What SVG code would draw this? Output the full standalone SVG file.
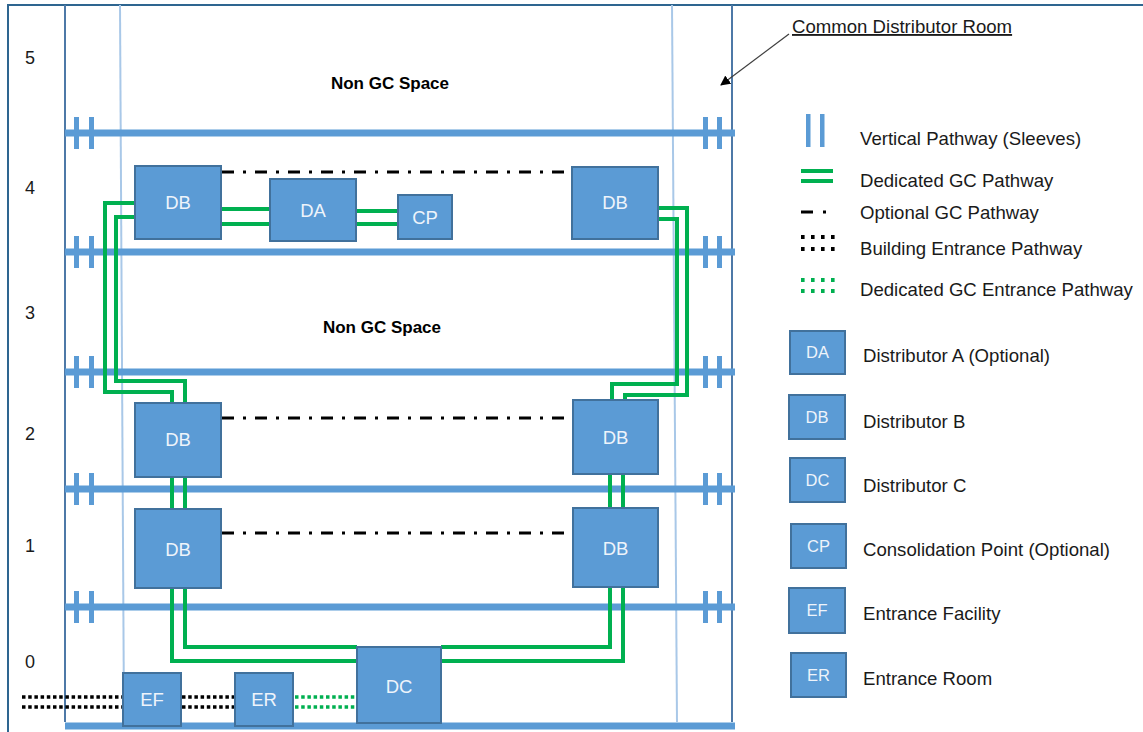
<svg xmlns="http://www.w3.org/2000/svg" width="1143" height="732" viewBox="0 0 1143 732">
<defs>
<style>
.lbl{font-family:"Liberation Sans",Arial,sans-serif;font-size:18.6px;fill:#1a1a1a}
.num{font-family:"Liberation Sans",Arial,sans-serif;font-size:18px;fill:#1a1a1a}
.bold{font-family:"Liberation Sans",Arial,sans-serif;font-size:17px;font-weight:bold;fill:#000}
.box{fill:#5b9bd5;stroke:#41719c;stroke-width:2}
.bt{font-family:"Liberation Sans",Arial,sans-serif;font-size:18.5px;fill:#eef4fb;text-anchor:middle}
.lbt{font-family:"Liberation Sans",Arial,sans-serif;font-size:16.5px;fill:#eef4fb;text-anchor:middle}
.slab{stroke:#5b9bd5;stroke-width:7;fill:none}
.sleeve{fill:#5b9bd5}
.gc{stroke:#00b050;stroke-width:4;fill:none}
.opt{stroke:#000;stroke-width:3;fill:none;stroke-dasharray:12 9 3 9}
.bep{stroke:#000;stroke-width:3.5;fill:none;stroke-dasharray:3.5 2.7}
.gep{stroke:#00b050;stroke-width:3.5;fill:none;stroke-dasharray:3.5 2.7}
</style>
<marker id="arr" markerWidth="10" markerHeight="10" refX="9" refY="5" orient="auto" markerUnits="userSpaceOnUse">
<path d="M0,0 L10,5 L0,10 z" fill="#000"/>
</marker>
</defs>
<rect x="0" y="0" width="1143" height="732" fill="#fff"/>
<path d="M8,732 V5 H1143" fill="none" stroke="#2e6590" stroke-width="2"/>

<g id="building">
<line x1="120" y1="5" x2="124" y2="722" stroke="#a9c8e8" stroke-width="2"/>
<line x1="672" y1="5" x2="677" y2="722" stroke="#a9c8e8" stroke-width="2"/>
<line x1="65" y1="5" x2="65" y2="722" stroke="#4e79a7" stroke-width="2"/>
<line x1="732" y1="5" x2="732" y2="722" stroke="#4e79a7" stroke-width="2"/>
<line class="slab" x1="65" y1="133" x2="735" y2="133"/>
<line class="slab" x1="65" y1="252" x2="735" y2="252"/>
<line class="slab" x1="65" y1="372" x2="735" y2="372"/>
<line class="slab" x1="65" y1="489" x2="735" y2="489"/>
<line class="slab" x1="65" y1="607" x2="735" y2="607"/>
<line class="slab" x1="65" y1="726" x2="735" y2="726"/>
<g id="sleeves">
<rect class="sleeve" x="74" y="117" width="5" height="32"/><rect class="sleeve" x="89" y="117" width="5" height="32"/>
<rect class="sleeve" x="703" y="117" width="5" height="32"/><rect class="sleeve" x="717" y="117" width="5" height="32"/>
<rect class="sleeve" x="74" y="236" width="5" height="32"/><rect class="sleeve" x="89" y="236" width="5" height="32"/>
<rect class="sleeve" x="703" y="236" width="5" height="32"/><rect class="sleeve" x="717" y="236" width="5" height="32"/>
<rect class="sleeve" x="74" y="356" width="5" height="32"/><rect class="sleeve" x="89" y="356" width="5" height="32"/>
<rect class="sleeve" x="703" y="356" width="5" height="32"/><rect class="sleeve" x="717" y="356" width="5" height="32"/>
<rect class="sleeve" x="74" y="473" width="5" height="32"/><rect class="sleeve" x="89" y="473" width="5" height="32"/>
<rect class="sleeve" x="703" y="473" width="5" height="32"/><rect class="sleeve" x="717" y="473" width="5" height="32"/>
<rect class="sleeve" x="74" y="591" width="5" height="32"/><rect class="sleeve" x="89" y="591" width="5" height="32"/>
<rect class="sleeve" x="703" y="591" width="5" height="32"/><rect class="sleeve" x="717" y="591" width="5" height="32"/>
</g>
</g>

<g id="floor-labels">
<text class="num" x="25" y="64">5</text>
<text class="num" x="25" y="194">4</text>
<text class="num" x="25" y="319">3</text>
<text class="num" x="25" y="440">2</text>
<text class="num" x="25" y="552">1</text>
<text class="num" x="25" y="668">0</text>
<text class="bold" x="390" y="89" text-anchor="middle">Non GC Space</text>
<text class="bold" x="382" y="333" text-anchor="middle">Non GC Space</text>
</g>

<g id="connectors">
<path class="gc" d="M135,203 H105 V392 H172 V403"/>
<path class="gc" d="M135,217 H116 V381 H185 V403"/>
<path class="gc" d="M658,208 H687 V395 H625 V400"/>
<path class="gc" d="M658,219 H677 V384 H612 V400"/>
<path class="gc" d="M221,209 H270 M221,224 H270"/>
<path class="gc" d="M356,211 H398 M356,224 H398"/>
<path class="gc" d="M172,477 V509 M185,477 V509"/>
<path class="gc" d="M610,474 V508 M623,474 V508"/>
<path class="gc" d="M172,588 V661 H357"/>
<path class="gc" d="M185,588 V647 H357"/>
<path class="gc" d="M610,587 V647 H441"/>
<path class="gc" d="M623,587 V661 H441"/>
<line class="opt" x1="222" y1="172" x2="566" y2="172"/>
<line class="opt" x1="222" y1="418" x2="566" y2="418"/>
<line class="opt" x1="222" y1="533" x2="566" y2="533"/>
<path class="bep" d="M22,697 H123 M22,707 H123"/>
<path class="bep" d="M182,697 H235 M182,707 H235"/>
<path class="gep" d="M295,697 H356 M295,707 H356"/>
<line x1="789" y1="34" x2="721" y2="85" stroke="#404040" stroke-width="1.3" marker-end="url(#arr)"/>
</g>

<g id="DB4L"><rect class="box" x="135" y="166" width="86" height="73"/><text class="bt" x="178" y="209">DB</text></g>
<g id="DA4"><rect class="box" x="270" y="179" width="86" height="62"/><text class="bt" x="313" y="217">DA</text></g>
<g id="CP4"><rect class="box" x="398" y="195" width="54" height="44"/><text class="bt" x="425" y="224">CP</text></g>
<g id="DB4R"><rect class="box" x="572" y="167" width="86" height="72"/><text class="bt" x="615" y="209">DB</text></g>
<g id="DB2L"><rect class="box" x="135" y="403" width="86" height="74"/><text class="bt" x="178" y="446">DB</text></g>
<g id="DB2R"><rect class="box" x="573" y="400" width="85" height="74"/><text class="bt" x="615.5" y="444">DB</text></g>
<g id="DB1L"><rect class="box" x="135" y="509" width="86" height="79"/><text class="bt" x="178" y="556">DB</text></g>
<g id="DB1R"><rect class="box" x="573" y="508" width="85" height="79"/><text class="bt" x="615.5" y="555">DB</text></g>
<g id="DC0"><rect class="box" x="357" y="647" width="84" height="76"/><text class="bt" x="399" y="693">DC</text></g>
<g id="EF0"><rect class="box" x="123" y="673" width="58" height="53"/><text class="bt" x="152" y="706">EF</text></g>
<g id="ER0"><rect class="box" x="235" y="673" width="58" height="53"/><text class="bt" x="264" y="706">ER</text></g>

<g id="callout">
<text class="lbl" x="792" y="33" text-decoration="underline">Common Distributor Room</text>
</g>

<g id="legend">
<rect class="sleeve" x="806" y="114" width="4.5" height="33"/><rect class="sleeve" x="820" y="114" width="4.5" height="33"/>
<text class="lbl" x="860" y="145">Vertical Pathway (Sleeves)</text>
<path class="gc" d="M801,171 H833 M801,181 H833"/>
<text class="lbl" x="860" y="187">Dedicated GC Pathway</text>
<path d="M801,212 H813 M823,212 H826" stroke="#000" stroke-width="3" fill="none"/>
<text class="lbl" x="860" y="219">Optional GC Pathway</text>
<path d="M801,237 H836 M801,249 H836" stroke="#000" stroke-width="3.8" stroke-dasharray="3.6 6.4" fill="none"/>
<text class="lbl" x="860" y="255">Building Entrance Pathway</text>
<path d="M801,280 H836 M801,291 H836" stroke="#00b050" stroke-width="3.8" stroke-dasharray="3.6 6.4" fill="none"/>
<text class="lbl" x="860" y="296">Dedicated GC Entrance Pathway</text>
<g id="leg-DA"><rect class="box" x="790" y="331" width="55" height="43"/><text class="lbt" x="817.5" y="358">DA</text></g>
<text class="lbl" x="863" y="362">Distributor A (Optional)</text>
<g id="leg-DB"><rect class="box" x="789" y="395" width="56" height="44"/><text class="lbt" x="817" y="423">DB</text></g>
<text class="lbl" x="863" y="428">Distributor B</text>
<g id="leg-DC"><rect class="box" x="790" y="458" width="55" height="44"/><text class="lbt" x="817.5" y="486">DC</text></g>
<text class="lbl" x="863" y="492">Distributor C</text>
<g id="leg-CP"><rect class="box" x="791" y="524" width="55" height="44"/><text class="lbt" x="818.5" y="552">CP</text></g>
<text class="lbl" x="863" y="556">Consolidation Point (Optional)</text>
<g id="leg-EF"><rect class="box" x="789" y="588" width="56" height="45"/><text class="lbt" x="817" y="616">EF</text></g>
<text class="lbl" x="863" y="620">Entrance Facility</text>
<g id="leg-ER"><rect class="box" x="791" y="653" width="55" height="44"/><text class="lbt" x="818.5" y="681">ER</text></g>
<text class="lbl" x="863" y="685">Entrance Room</text>
</g>
</svg>
